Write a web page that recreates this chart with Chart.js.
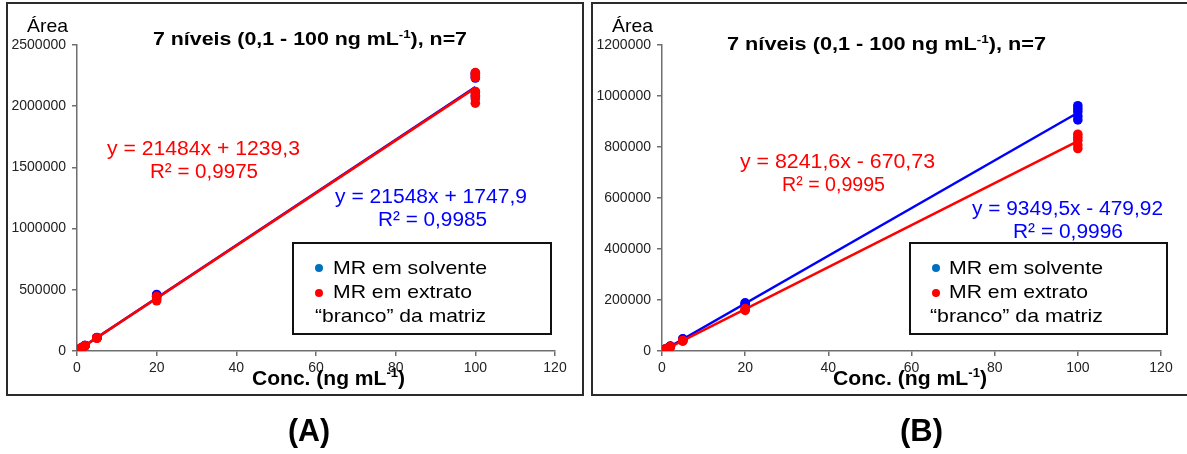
<!DOCTYPE html>
<html>
<head>
<meta charset="utf-8">
<script src="https://cdn.jsdelivr.net/npm/chart.js@4.4.1/dist/chart.umd.min.js"></script>
<style>
  html, body { margin: 0; padding: 0; background: #fff; width: 1187px; height: 454px; overflow: hidden; position: relative; }
  .frame { position: absolute; border: 2px solid #2b2b2b; box-sizing: border-box; }
  #frameA { left: 6px; top: 2px; width: 578px; height: 394px; }
  #frameB { left: 591px; top: 2px; width: 600px; height: 394px; }
  canvas { position: absolute; top: 0; }
  #cA { left: 0; }
  #cB { left: 590px; }
</style>
</head>
<body>
<div class="frame" id="frameA"></div>
<div class="frame" id="frameB"></div>
<canvas id="cA" width="590" height="454"></canvas>
<canvas id="cB" width="597" height="454"></canvas>
<script>
// Concentration levels (ng mL-1)
const levels = [0.1, 0.5, 1, 2, 5, 20, 100];

// Peak areas, replicates per level - panel A
const areaA_solvente = [
  [2150, 2600, 2300],
  [11300, 12100, 10900],
  [22600, 23400, 21900],
  [44100, 45200, 43300],
  [108500, 110200, 106400],
  [462000, 452000, 445000],
  [2270000, 2250000, 2230000, 2110000, 2080000]
];
const areaA_extrato = [
  [2400, 2050, 2700],
  [10800, 11600, 11200],
  [21800, 22900, 21200],
  [43000, 44400, 42100],
  [105300, 108800, 103600],
  [447000, 428000, 410000],
  [2275000, 2255000, 2235000, 2120000, 2090000, 2060000, 2025000]
];

// Peak areas, replicates per level - panel B
const areaB_solvente = [
  [520, 430, 610],
  [4300, 4600, 4100],
  [9000, 9400, 8800],
  [18400, 18900, 18100],
  [46600, 47800, 45300],
  [189000, 185500, 182000],
  [962000, 950000, 938000, 921000, 906000]
];
const areaB_extrato = [
  [180, 320, 260],
  [3500, 3700, 3300],
  [7600, 7900, 7400],
  [15900, 16300, 15500],
  [40200, 38600, 41300],
  [163000, 159500, 166000],
  [850000, 838000, 826000, 808000, 794000]
];

// Linear fits: [slope, intercept, R²]
const fitA_solvente = [21548, 1747.9, 0.9985];
const fitA_extrato = [21484, 1239.3, 0.9975];
const fitB_solvente = [9349.5, -479.92, 0.9996];
const fitB_extrato = [8241.6, -670.73, 0.9995];

// Axis ticks
const xTicks = [0, 20, 40, 60, 80, 100, 120];
const yTicksA = [0, 500000, 1000000, 1500000, 2000000, 2500000];
const yTicksB = [0, 200000, 400000, 600000, 800000, 1000000, 1200000];

// Text
const titleMain = '7 níveis (0,1 - 100 ng mL';
const titleTail = '), n=7';
const yTitle = 'Área';
const xTitleMain = 'Conc. (ng mL';
const legendLines = ['MR em solvente', 'MR em extrato', '“branco” da matriz'];
const panelTags = ['(A)', '(B)'];

const BLUE = '#0000FF';
const RED = '#FF0000';
const LEGEND_BLUE = '#0070C0';
const FONT = '"Liberation Sans", Arial, Helvetica, sans-serif';
const AXIS = '#6e6e6e';

function toPoints(reps) {
  const pts = [];
  reps.forEach((row, i) => row.forEach(v => pts.push({ x: levels[i], y: v })));
  return pts;
}
function fitLine(fit) {
  const x0 = levels[0], x1 = levels[levels.length - 1];
  return [{ x: x0, y: fit[0] * x0 + fit[1] }, { x: x1, y: fit[0] * x1 + fit[1] }];
}
const fmt = v => String(v).replace('.', ',');
const eqText = f => 'y = ' + fmt(f[0]) + 'x ' + (f[1] < 0 ? '- ' : '+ ') + fmt(Math.abs(f[1]));
const r2Text = f => 'R² = ' + fmt(f[2]);
const font = (size, bold) => (bold ? 'bold ' : '') + size + 'px ' + FONT;

// Draws a run of text (optional superscript pieces) stretched to span [left, right]
function fitText(ctx, parts, left, right, baseline, size, bold, color) {
  ctx.save();
  const fonts = parts.map(p => font(p[1] ? size * 0.62 : size, bold));
  let w = 0;
  parts.forEach((p, i) => { ctx.font = fonts[i]; w += ctx.measureText(p[0]).width; });
  const sx = (right - left) / w;
  ctx.translate(left, baseline);
  ctx.scale(sx, 1);
  ctx.fillStyle = color;
  ctx.textAlign = 'left';
  ctx.textBaseline = 'alphabetic';
  let x = 0;
  parts.forEach((p, i) => {
    ctx.font = fonts[i];
    ctx.fillText(p[0], x, p[1] ? -size * 0.4 : 0);
    x += ctx.measureText(p[0]).width;
  });
  ctx.restore();
}

function makeDecor(L) {
  return {
    id: 'decor',
    afterDraw(chart) {
      const ctx = chart.ctx;
      const o = L.off;
      const X = v => v - o;
      fitText(ctx, [[yTitle]], X(L.area[0]), X(L.area[1]), L.area[2], 18.5, false, '#000');
      fitText(ctx, [[titleMain], ['-1', true], [titleTail]], X(L.title[0]), X(L.title[1]), L.title[2], 18.5, true, '#000');
      fitText(ctx, [[xTitleMain], ['-1', true], [')']], X(L.xt[0]), X(L.xt[1]), L.xt[2], 21, true, '#000');
      // equations
      const er = L.eqRed, eb = L.eqBlue;
      fitText(ctx, [[eqText(L.fitRed)]], X(er[0][0]), X(er[0][1]), er[0][2], 20.5, false, RED);
      fitText(ctx, [[r2Text(L.fitRed)]], X(er[1][0]), X(er[1][1]), er[1][2], 20.5, false, RED);
      fitText(ctx, [[eqText(L.fitBlue)]], X(eb[0][0]), X(eb[0][1]), eb[0][2], 20.5, false, BLUE);
      fitText(ctx, [[r2Text(L.fitBlue)]], X(eb[1][0]), X(eb[1][1]), eb[1][2], 20.5, false, BLUE);
      // legend box
      const b = L.box;
      ctx.save();
      ctx.fillStyle = '#fff';
      ctx.fillRect(X(b[0]), b[1], b[2] - b[0], b[3] - b[1]);
      ctx.strokeStyle = '#111';
      ctx.lineWidth = 2;
      ctx.strokeRect(X(b[0]), b[1], b[2] - b[0], b[3] - b[1]);
      [LEGEND_BLUE, RED].forEach((c, i) => {
        ctx.beginPath();
        ctx.fillStyle = c;
        ctx.arc(X(L.dotX), L.dotY[i], 4, 0, Math.PI * 2);
        ctx.fill();
      });
      ctx.restore();
      L.leg.forEach((r, i) => fitText(ctx, [[legendLines[i]]], X(r[0]), X(r[1]), r[2], 19, false, '#000'));
      // panel tag
      fitText(ctx, [[L.tag]], X(L.tagPos[0]), X(L.tagPos[1]), L.tagPos[2], 31, true, '#000');
    }
  };
}

function buildChart(canvasId, L) {
  const tickFont = { family: FONT, size: 14 };
  return new Chart(document.getElementById(canvasId), {
    type: 'scatter',
    data: {
      datasets: [
        { label: legendLines[1], data: fitLine(L.fitRed), showLine: true, borderColor: RED, borderWidth: 2.5, pointRadius: 0, order: 0 },
        { label: legendLines[1], data: toPoints(L.red), backgroundColor: RED, borderColor: RED, borderWidth: 0, pointRadius: 4.8, order: 1 },
        { label: legendLines[0], data: fitLine(L.fitBlue), showLine: true, borderColor: BLUE, borderWidth: 2.5, pointRadius: 0, order: 2 },
        { label: legendLines[0], data: toPoints(L.blue), backgroundColor: BLUE, borderColor: BLUE, borderWidth: 0, pointRadius: 4.8, order: 3 }
      ]
    },
    options: {
      responsive: false,
      animation: false,
      events: [],
      layout: { padding: { left: 0, right: L.padRight, top: 45, bottom: 0 } },
      plugins: { legend: { display: false }, tooltip: { enabled: false }, title: { display: false } },
      scales: {
        x: {
          type: 'linear', min: xTicks[0], max: xTicks[xTicks.length - 1],
          afterBuildTicks: s => { s.ticks = xTicks.map(v => ({ value: v })); },
          afterFit: s => { s.height = 454 - 351; },
          ticks: { font: { family: FONT, size: 14 }, color: '#222', padding: 4, maxRotation: 0, callback: v => String(v) },
          grid: { display: true, drawOnChartArea: false, drawTicks: true, tickLength: 5, color: AXIS, lineWidth: 1.5 },
          border: { display: true, color: AXIS, width: 1.5 }
        },
        y: {
          type: 'linear', min: L.yTicks[0], max: L.yTicks[L.yTicks.length - 1],
          afterBuildTicks: s => { s.ticks = L.yTicks.map(v => ({ value: v })); },
          afterFit: s => { s.width = L.yWidth; },
          ticks: { font: tickFont, color: '#222', padding: 6, callback: v => String(v) },
          grid: { display: true, drawOnChartArea: false, drawTicks: true, tickLength: 5, color: AXIS, lineWidth: 1.5 },
          border: { display: true, color: AXIS, width: 1.5 }
        }
      }
    },
    plugins: [makeDecor(L)]
  });
}

buildChart('cA', {
  off: 0, padRight: 35, yWidth: 77, yTicks: yTicksA,
  blue: areaA_solvente, red: areaA_extrato, fitBlue: fitA_solvente, fitRed: fitA_extrato,
  area: [27, 68, 32], title: [153, 467, 45], xt: [252, 405, 385],
  eqRed: [[107, 300, 155], [150, 258, 178]],
  eqBlue: [[335, 527, 203], [378, 487, 226]],
  box: [293, 243, 551, 334], dotX: 319, dotY: [268, 293],
  leg: [[333, 487, 274], [333, 472, 298], [315, 486, 322]],
  tag: panelTags[0], tagPos: [288, 330, 441]
});

buildChart('cB', {
  off: 590, padRight: 26, yWidth: 72, yTicks: yTicksB,
  blue: areaB_solvente, red: areaB_extrato, fitBlue: fitB_solvente, fitRed: fitB_extrato,
  area: [612, 653, 32], title: [727, 1046, 50], xt: [833, 987, 385],
  eqRed: [[740, 935, 168], [782, 885, 191]],
  eqBlue: [[972, 1163, 215], [1013, 1123, 238]],
  box: [910, 243, 1167, 334], dotX: 936, dotY: [268, 293],
  leg: [[949, 1103, 274], [949, 1088, 298], [930, 1103, 322]],
  tag: panelTags[1], tagPos: [900, 943, 441]
});
</script>
</body>
</html>
